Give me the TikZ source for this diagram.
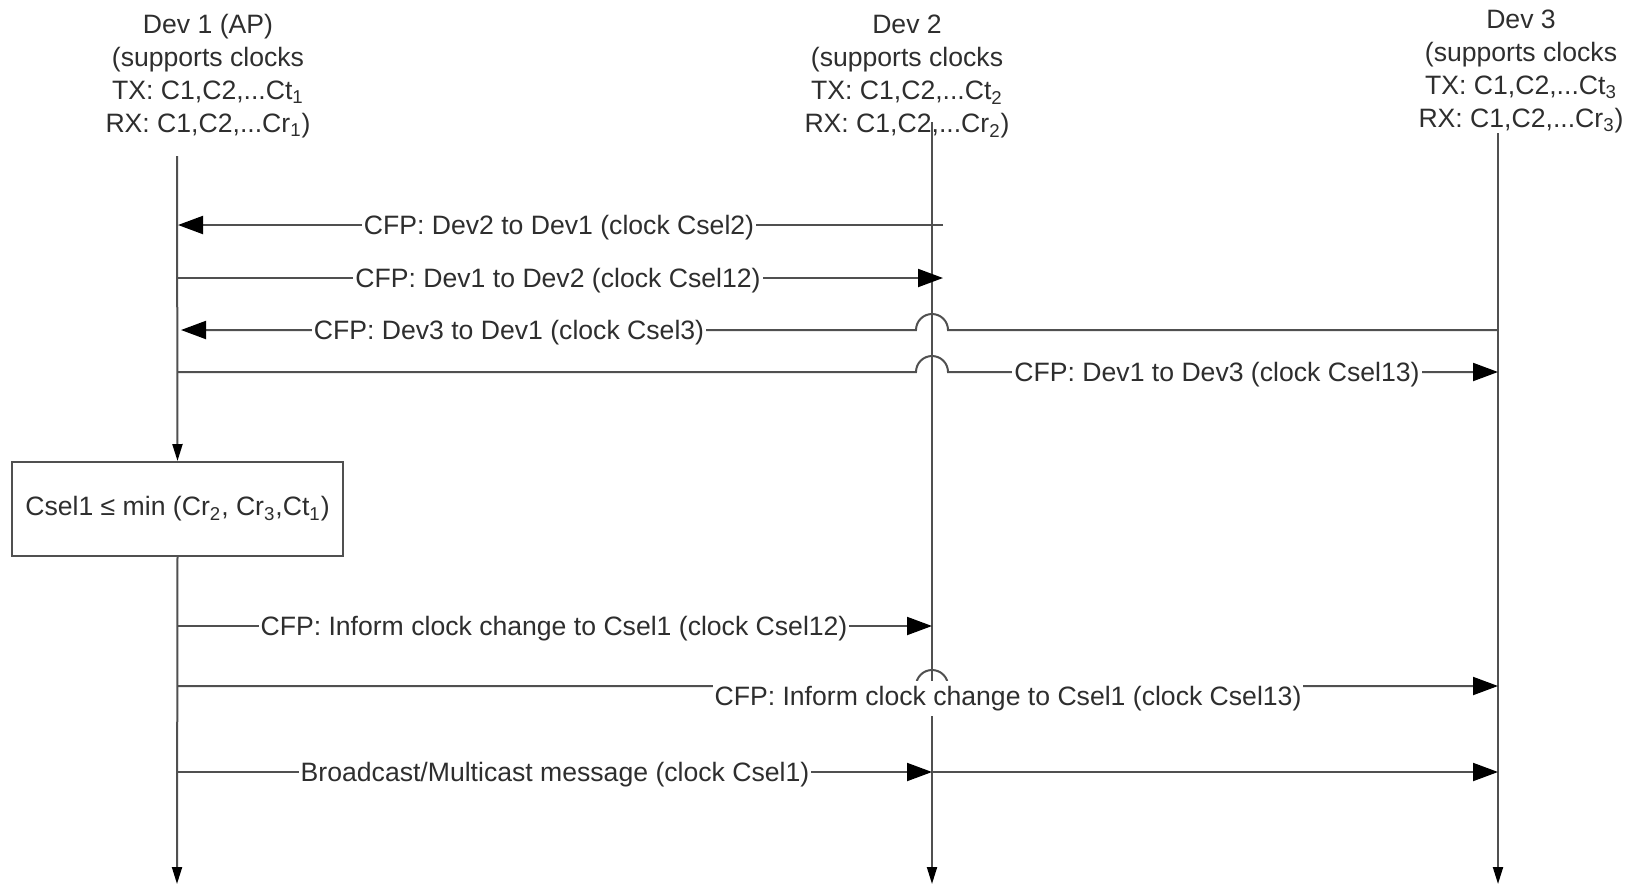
\documentclass[tikz,border=0pt]{standalone}
\usepackage{fontspec}
\setmainfont{Liberation Sans}
\usetikzlibrary{arrows.meta}
\definecolor{linegray}{HTML}{505050}
\definecolor{textgray}{HTML}{2E2E2E}
\begin{document}
\begin{tikzpicture}[x=0.5pt,y=-0.5pt,
  font=\fontsize{13.3}{16.5}\selectfont, text=textgray,
  life/.style={draw=linegray, line width=1pt, -{Triangle[length=8.5pt,width=5pt,black]}},
  msg/.style={draw=linegray, line width=1pt, -{Triangle[length=12.5pt,width=9pt,black]}},
  lbl/.style={fill=white, inner xsep=1pt, inner ysep=0.5pt, anchor=base},
  head/.style={align=center, inner sep=0pt, anchor=north},
  calcbox/.style={draw=linegray, line width=1pt, fill=white, minimum width=165.5pt, minimum height=47pt, inner sep=0pt}]
\useasboundingbox (0,0) rectangle (1633,884);

% headers
\node[head] (h1) at (208,14) {Dev 1 (AP)\\(supports clocks\\TX: C1,C2,...Ct\textsubscript{1}\\RX: C1,C2,...Cr\textsubscript{1})};
\node[head] (h2) at (907,15) {Dev 2\\(supports clocks\\TX: C1,C2,...Ct\textsubscript{2}\\RX: C1,C2,...Cr\textsubscript{2})};
\node[head] (h3) at (1521,9.5) {Dev 3\\(supports clocks\\TX: C1,C2,...Ct\textsubscript{3}\\RX: C1,C2,...Cr\textsubscript{3})};

% lifeline coordinates
\coordinate (l1top) at (177,156);
\coordinate (l1bot) at (177,884);
\coordinate (l2top) at (932,122);
\coordinate (l2bot) at (932,884);
\coordinate (l3top) at (1498,133);
\coordinate (l3bot) at (1498,884);

% calculation box
\node[calcbox] (box) at (177.5,509) {Csel1 ≤ min (Cr\textsubscript{2}, Cr\textsubscript{3},Ct\textsubscript{1})};

% lifelines
\draw[life] (l1top) -- (box.north);
\draw[life] (box.south) -- (l1bot);
\draw[life] (l2top) -- (l2bot);
\draw[life] (l3top) -- (l3bot);

% message end points
\coordinate (m1s) at (943,225);   \coordinate (m1e) at (178,225);
\coordinate (m2s) at (177,278);   \coordinate (m2e) at (943,278);
\coordinate (m3s) at (1498,330);  \coordinate (m3h) at (948,330); \coordinate (m3e) at (181,330);
\coordinate (m4s) at (177,372);   \coordinate (m4h) at (916,372); \coordinate (m4e) at (1498,372);
\coordinate (m6s) at (177,626);   \coordinate (m6e) at (932,626);
\coordinate (m7s) at (177,686);   \coordinate (m7h) at (916,686); \coordinate (m7e) at (1498,686);
\coordinate (m8s) at (177,772);   \coordinate (m8m) at (932,772); \coordinate (m8e) at (1498,772);

% messages
\draw[msg] (m1s) -- (m1e);
\draw[msg] (m2s) -- (m2e);
\draw[msg] (m3s) -- (m3h) arc[start angle=0, end angle=-180, radius=16] -- (m3e);
\draw[msg] (m4s) -- (m4h) arc[start angle=180, end angle=360, radius=16] -- (m4e);
\draw[msg] (m6s) -- (m6e);
\draw[msg] (m7s) -- (m7h) arc[start angle=180, end angle=360, radius=16] -- (m7e);
\draw[msg] (m8s) -- (m8m);
\draw[msg] (m8m) -- (m8e);

% labels
\node[lbl] (t1) at (559,234.5) {CFP: Dev2 to Dev1 (clock Csel2)};
\node[lbl] (t2) at (558,287.5) {CFP: Dev1 to Dev2 (clock Csel12)};
\node[lbl] (t3) at (509,339.5) {CFP: Dev3 to Dev1 (clock Csel3)};
\node[lbl] (t4) at (1217,381.5) {CFP: Dev1 to Dev3 (clock Csel13)};
\node[lbl] (t6) at (554,635.5) {CFP: Inform clock change to Csel1 (clock Csel12)};
\node[lbl, inner ysep=2.5pt] (t7) at (1008,705.5) {CFP: Inform clock change to Csel1 (clock Csel13)};
\node[lbl] (t8) at (555,781.5) {Broadcast/Multicast message (clock Csel1)};
\end{tikzpicture}
\end{document}
